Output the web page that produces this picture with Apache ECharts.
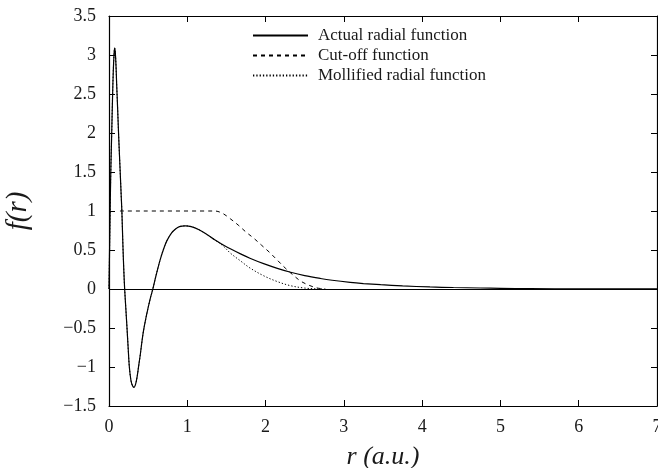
<!DOCTYPE html>
<html>
<head>
<meta charset="utf-8">
<style>html,body{margin:0;padding:0;background:#fff;}#c{width:658px;height:468px;}</style>
<script src="https://cdn.jsdelivr.net/npm/echarts@6/dist/echarts.min.js"></script>
</head>
<body>
<div id="c"></div>
<script>
// Actual radial function
var rActual = [0, 0.01, 0.017, 0.025, 0.034, 0.045, 0.055, 0.065, 0.072, 0.08, 0.09, 0.097, 0.11, 0.123, 0.14, 0.157, 0.165, 0.178, 0.19, 0.20, 0.215, 0.23, 0.245, 0.26, 0.28, 0.30, 0.32, 0.34, 0.36, 0.38, 0.40, 0.42, 0.44, 0.47, 0.50, 0.53, 0.56, 0.60, 0.655, 0.70, 0.74, 0.80, 0.85, 0.90, 0.975, 1.05, 1.15, 1.25, 1.35, 1.46, 1.55, 1.68, 1.80, 1.975, 2.15, 2.32, 2.50, 2.70, 2.85, 3.08, 3.25, 3.47, 3.75, 4.1, 4.4, 4.74, 5.0, 5.38, 6.0, 6.5, 7.0];
var fActual = [0, 0.7, 1.17, 1.6, 1.97, 2.45, 2.8, 3.02, 3.09, 3.04, 2.85, 2.65, 2.32, 1.97, 1.57, 1.17, 0.98, 0.55, 0.22, 0.0, -0.25, -0.5, -0.76, -1.0, -1.17, -1.24, -1.26, -1.22, -1.12, -0.98, -0.84, -0.68, -0.54, -0.38, -0.24, -0.11, 0.0, 0.17, 0.38, 0.52, 0.62, 0.72, 0.77, 0.80, 0.81, 0.80, 0.76, 0.70, 0.63, 0.565, 0.515, 0.45, 0.395, 0.325, 0.265, 0.215, 0.172, 0.135, 0.112, 0.085, 0.07, 0.055, 0.04, 0.026, 0.019, 0.013, 0.009, 0.005, 0.002, 0.001, 0.0005];
// Cut-off function
var rCut = [0.14, 1.35, 1.45, 1.55, 1.65, 1.75, 1.85, 1.95, 2.05, 2.15, 2.25, 2.35, 2.45, 2.55, 2.65, 2.75];
var fCut = [1.0, 1.0, 0.97, 0.9, 0.82, 0.73, 0.65, 0.56, 0.47, 0.37, 0.27, 0.18, 0.1, 0.05, 0.015, 0.0];
// Mollified radial function
var rMoll = [0, 0.01, 0.017, 0.025, 0.034, 0.045, 0.055, 0.065, 0.072, 0.08, 0.09, 0.097, 0.11, 0.123, 0.14, 0.157, 0.165, 0.178, 0.19, 0.20, 0.215, 0.23, 0.245, 0.26, 0.28, 0.30, 0.32, 0.34, 0.36, 0.38, 0.40, 0.42, 0.44, 0.47, 0.50, 0.53, 0.56, 0.60, 0.655, 0.70, 0.74, 0.80, 0.85, 0.90, 0.975, 1.05, 1.15, 1.25, 1.35, 1.46, 1.55, 1.68, 1.80, 1.975, 2.15, 2.32, 2.50, 2.65, 2.78];
var fMoll = [0, 0.7, 1.17, 1.6, 1.97, 2.45, 2.8, 3.02, 3.09, 3.04, 2.85, 2.65, 2.32, 1.97, 1.57, 1.17, 0.98, 0.55, 0.22, 0.0, -0.25, -0.5, -0.76, -1.0, -1.17, -1.24, -1.26, -1.22, -1.12, -0.98, -0.84, -0.68, -0.54, -0.38, -0.24, -0.11, 0.0, 0.17, 0.38, 0.52, 0.62, 0.72, 0.77, 0.80, 0.81, 0.80, 0.76, 0.70, 0.63, 0.55, 0.46, 0.36, 0.27, 0.17, 0.095, 0.042, 0.012, 0.002, 0.0];

var seriesNames = ['Actual radial function', 'Cut-off function', 'Mollified radial function'];
var xTicks = {min: 0, max: 7, interval: 1};
var yTicks = {min: -1.5, max: 3.5, interval: 0.5};

function pairs(xs, ys) { return xs.map(function (x, i) { return [x, ys[i]]; }); }

var serif = '"Liberation Serif", "DejaVu Serif", serif';
var txt = '#1a1a1a';
var tickStyle = {show: true, inside: true, length: 6, lineStyle: {color: '#000', width: 1}};
var axLine = {show: true, onZero: false, lineStyle: {color: '#000', width: 1.2}};

var chart = echarts.init(document.getElementById('c'), null, {renderer: 'canvas'});
chart.setOption({
  animation: false,
  backgroundColor: '#fff',
  grid: {left: 109, right: 1, top: 16, bottom: 62, containLabel: false, outerBoundsMode: 'none'},
  legend: {
    orient: 'vertical', left: 247, top: 22,
    itemWidth: 55, itemHeight: 14, itemGap: 3,
    itemStyle: {opacity: 0},
    data: seriesNames,
    textStyle: {fontFamily: serif, fontSize: 17, lineHeight: 14, color: txt, padding: [0, 0, 0, 5]}
  },
  xAxis: [{
    type: 'value', position: 'bottom', min: xTicks.min, max: xTicks.max, interval: xTicks.interval,
    axisLine: axLine, axisTick: tickStyle, splitLine: {show: false},
    axisLabel: {fontFamily: serif, fontSize: 18, color: txt, margin: 12},
    name: 'r (a.u.)', nameLocation: 'middle', nameGap: 38,
    nameTextStyle: {fontFamily: serif, fontSize: 26, fontStyle: 'italic', color: txt}
  }, {
    type: 'value', position: 'top', min: xTicks.min, max: xTicks.max, interval: xTicks.interval,
    axisLine: axLine, axisTick: tickStyle, splitLine: {show: false}, axisLabel: {show: false}
  }],
  yAxis: [{
    type: 'value', position: 'left', min: yTicks.min, max: yTicks.max, interval: yTicks.interval,
    axisLine: axLine, axisTick: tickStyle, splitLine: {show: false},
    axisLabel: {fontFamily: serif, fontSize: 18, color: txt, margin: 13,
      formatter: function (v) { return String(v).replace('-', '\u2212'); }},
    name: 'f(r)', nameLocation: 'middle', nameGap: 76,
    nameTextStyle: {fontFamily: serif, fontSize: 29, fontStyle: 'italic', color: txt}
  }, {
    type: 'value', position: 'right', min: yTicks.min, max: yTicks.max, interval: yTicks.interval,
    axisLine: axLine, axisTick: tickStyle, splitLine: {show: false}, axisLabel: {show: false}
  }],
  series: [{
    name: seriesNames[0], type: 'line', data: pairs(rActual, fActual),
    showSymbol: false, symbol: 'none', smooth: 0.35,
    lineStyle: {color: '#000', width: 1.2, type: 'solid'},
    itemStyle: {color: '#000'},
    markLine: {silent: true, symbol: 'none', label: {show: false},
      lineStyle: {color: '#000', width: 1.2, type: 'solid'}, data: [{yAxis: 0}]}
  }, {
    name: seriesNames[1], type: 'line', data: pairs(rCut, fCut),
    showSymbol: false, symbol: 'none', smooth: 0.35,
    lineStyle: {color: '#000', width: 1, type: [4, 4]},
    itemStyle: {color: '#000'}
  }, {
    name: seriesNames[2], type: 'line', data: pairs(rMoll, fMoll),
    showSymbol: false, symbol: 'none', smooth: 0.35,
    lineStyle: {color: '#000', width: 1, type: [1.3, 2]},
    itemStyle: {color: '#000'}
  }]
});
</script>
</body>
</html>
